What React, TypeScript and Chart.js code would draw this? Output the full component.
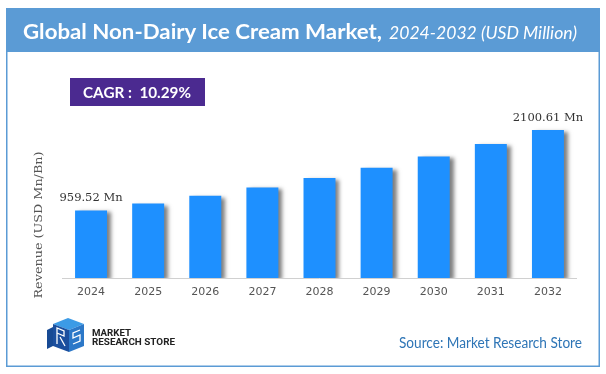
import React, { useEffect, useRef } from "react";
import { Chart, registerables } from "chart.js";

Chart.register(...registerables);

const years: string[] = ["2024", "2025", "2026", "2027", "2028", "2029", "2030", "2031", "2032"];
const revenue: number[] = [959.52, 1058, 1167, 1287, 1420, 1566, 1727, 1905, 2100.61];
const barLabels: string[] = ["959.52 Mn", "", "", "", "", "", "", "", "2100.61 Mn"];
const titleMain = "Global Non-Dairy Ice Cream Market,";
const titleSub = "2024-2032 (USD Million)";
const cagrText = "CAGR :\u00a0 10.29%";
const yTitle = "Revenue (USD Mn/Bn)";
const sourceText = "Source: Market Research Store";

const shadowPlugin = {
  id: "barShadow",
  beforeDatasetsDraw(chart: any) {
    const ctx = chart.ctx;
    ctx.save();
    ctx.shadowColor = "rgba(0,0,0,0.5)";
    ctx.shadowBlur = 4;
    ctx.shadowOffsetX = 4;
    ctx.shadowOffsetY = 2;
  },
  afterDatasetsDraw(chart: any) {
    const ctx = chart.ctx;
    ctx.restore();
    const meta = chart.getDatasetMeta(0);
    ctx.save();
    ctx.font = "11.5px 'DejaVu Serif'";
    ctx.fillStyle = "#333";
    ctx.textAlign = "center";
    ctx.textBaseline = "middle";
    meta.data.forEach((bar: any, i: number) => {
      const t = barLabels[i];
      if (t) ctx.fillText(t, bar.x, bar.y - 12);
    });
    ctx.restore();
  },
};

export default function App() {
  const ref = useRef<HTMLCanvasElement | null>(null);
  useEffect(() => {
    if (!ref.current) return;
    const chart = new Chart(ref.current, {
      type: "bar",
      data: {
        labels: years,
        datasets: [
          {
            data: revenue,
            backgroundColor: "#1E90FF",
            borderWidth: 0,
            categoryPercentage: 0.8,
            barPercentage: 0.7,
          },
        ],
      },
      options: {
        animation: false,
        responsive: false,
        maintainAspectRatio: false,
        layout: { padding: { left: 62.5, right: 29.5, top: 102, bottom: 74.8 } },
        plugins: { legend: { display: false }, tooltip: { enabled: false } },
        scales: {
          x: {
            grid: { display: false },
            border: { display: true, color: "#d0d0d0", width: 1 },
            ticks: { color: "#555", padding: 0, font: { family: "'DejaVu Sans'", size: 11 } },
          },
          y: { display: false, min: 0, max: 2500 },
        },
      },
      plugins: [shadowPlugin],
    });
    return () => chart.destroy();
  }, []);

  return (
    <div style={{ position: "absolute", left: 0, top: 0, width: 606, height: 374, background: "#fff", overflow: "hidden" }}>
      <canvas ref={ref} width={606} height={374} style={{ position: "absolute", left: 0, top: 0, width: 606, height: 374 }} />
      <svg width={606} height={374} style={{ position: "absolute", left: 0, top: 0, pointerEvents: "none" }}>
        <defs>
          <linearGradient id="dash" x1="0" x2="1" y1="0" y2="0">
            <stop offset="0" stopColor="#E8702A" />
            <stop offset="1" stopColor="#F6C3A0" />
          </linearGradient>
        </defs>
        <rect x={6.75} y={8.75} width={592.5} height={357.5} fill="none" stroke="#5B9BD5" strokeWidth={1.5} />
        <rect x={6} y={8} width={594} height={44} fill="#5B9BD5" />
        <text x={23} y={38.5} fill="#fff" fontFamily="Lato" fontWeight="bold" fontSize={20} textLength={359} lengthAdjust="spacingAndGlyphs">{titleMain}</text>
        <text x={389} y={38.5} fill="#fff" fontFamily="Lato" fontStyle="italic" fontSize={17.5} textLength={188} lengthAdjust="spacingAndGlyphs">{titleSub}</text>
        <line x1={41} x2={581} y1={61.5} y2={61.5} stroke="url(#dash)" strokeWidth={1.3} strokeDasharray="4 2.5" />
        <rect x={70} y={78} width={135} height={28} fill="#4B2A90" />
        <text x={83} y={98.3} fill="#fff" fontFamily="Lato" fontWeight="bold" fontSize={16} textLength={108} lengthAdjust="spacingAndGlyphs">{cagrText}</text>
        <text transform="translate(41.5,225) rotate(-90)" textAnchor="middle" fill="#555" fontFamily="DejaVu Serif" fontSize={11.5} textLength={147} lengthAdjust="spacingAndGlyphs">{yTitle}</text>
        <g>
          <polygon points="53,324 68,318 84,324 69,330" fill="#3C9BE6" />
          <polygon points="53,324 69,330 69,352 53,346" fill="#1B4F9E" />
          <polygon points="69,330 84,324 84,346 69,352" fill="#2C78C8" />
          <polyline points="57,333 57,328 64,331 64,336 57,333" fill="none" stroke="#fff" strokeWidth={1.3} />
          <line x1={57} y1={333} x2={57} y2={344} stroke="#fff" strokeWidth={1.3} />
          <line x1={60} y1={337} x2={65} y2={346} stroke="#fff" strokeWidth={1.3} />
          <polyline points="80,330 73,333 73,338 80,335 80,341 73,344" fill="none" stroke="#fff" strokeWidth={1.3} />
          <polygon points="47,330 53,327 53,346 47,349" fill="#174a94" />
        </g>
        <text x={92} y={336} fill="#222" fontFamily="Roboto" fontWeight="bold" fontSize={9.5} textLength={39} lengthAdjust="spacingAndGlyphs">MARKET</text>
        <text x={92} y={344.5} fill="#222" fontFamily="Roboto" fontWeight="bold" fontSize={9.5} textLength={83} lengthAdjust="spacingAndGlyphs">RESEARCH STORE</text>
        <text x={399} y={348} fill="#2E75B6" fontFamily="Lato" fontSize={14.5} textLength={183} lengthAdjust="spacingAndGlyphs">{sourceText}</text>
      </svg>
    </div>
  );
}
